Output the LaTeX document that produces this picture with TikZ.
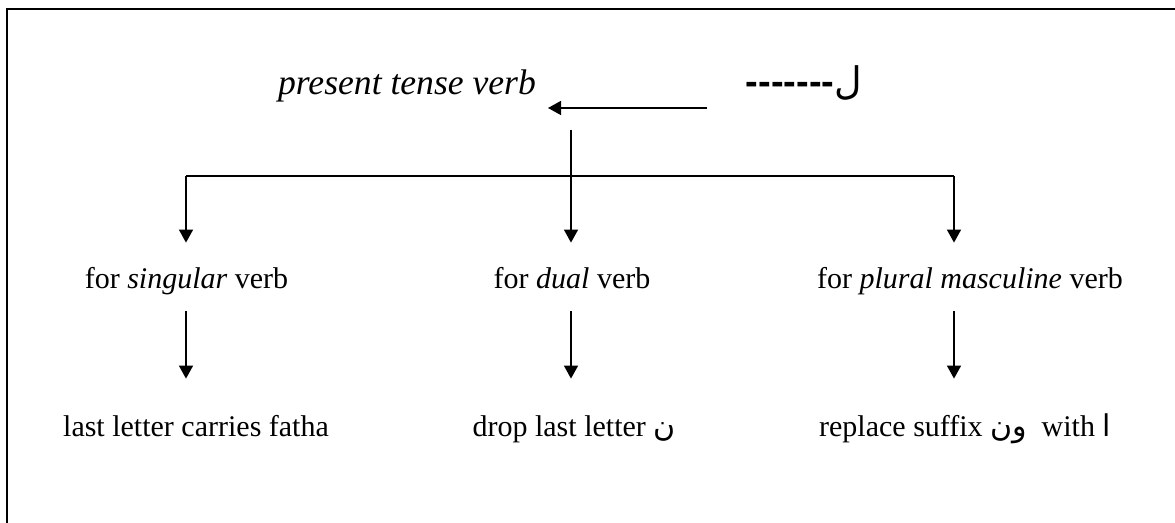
\documentclass[tikz,border=0pt]{standalone}
\usepackage{fontspec}
\setmainfont{Liberation Serif}
\newfontfamily\arabicfont[Script=Arabic]{DejaVu Sans}
\newfontfamily\dashfont{Liberation Sans}
\TeXXeTstate=1
\usetikzlibrary{arrows.meta}
\newcommand{\artext}[1]{{\arabicfont\beginR #1\endR}}

\begin{document}
\begin{tikzpicture}[
  x=0.5pt, y=-0.5pt, >={Triangle[length=6.5pt,width=7pt]},
  lbl/.style={anchor=base, inner sep=0pt, text height=10pt, text depth=3pt, font=\fontsize{15}{18}\selectfont},
  head/.style={anchor=base, inner sep=0pt},
  link/.style={line width=0.75pt},
  frame/.style={line width=1pt}]
  \useasboundingbox (0,0) rectangle (1175,523);
  \draw[frame] (6.5,523) |- (1175,9.5);
  % top row
  \node[head, font=\fontsize{17.8}{21}\selectfont\itshape] (ptv) at (407,95) {present tense verb};
  \node[head, font=\fontsize{19}{21}\selectfont\dashfont\bfseries] (lamx) at (804,95) {-{}-{}-{}-{}-{}-{}-{\mdseries\artext{ل}}};
  \coordinate (from) at (707,108);
  \coordinate (to) at (548,108);
  \coordinate (hub) at (571,130);
  \coordinate (forkL) at (186,176);
  \coordinate (forkR) at (954,176);
  % middle row
  \node[lbl] (sing) at (186.5,289) {for \textit{singular} verb};
  \node[lbl] (dual) at (572,289) {for \textit{dual} verb};
  \node[lbl] (plur) at (970,289) {for \textit{plural masculine} verb};
  % bottom row
  \node[lbl] (fatha) at (196,437) {last letter carries fatha};
  \node[lbl] (dropn) at (574,437) {drop last letter \artext{ن}};
  \node[lbl] (repl) at (965,437) {replace suffix \artext{ون}\ \ with \artext{ا}};
  \draw[link, ->] (from) -- (to);
  \draw[link, ->, shorten >=13pt] (hub) -- (hub |- dual.north);
  \draw[link] (forkL) -- (forkR);
  \draw[link, ->, shorten >=13pt] (forkL) -- (forkL |- sing.north);
  \draw[link, ->, shorten >=13pt] (forkR) -- (forkR |- plur.north);
  \draw[link, ->, shorten <=8pt, shorten >=19pt] (forkL |- sing.south) -- (forkL |- fatha.north);
  \draw[link, ->, shorten <=8pt, shorten >=19pt] (hub |- dual.south) -- (hub |- dropn.north);
  \draw[link, ->, shorten <=8pt, shorten >=19pt] (forkR |- plur.south) -- (forkR |- repl.north);
\end{tikzpicture}
\end{document}
